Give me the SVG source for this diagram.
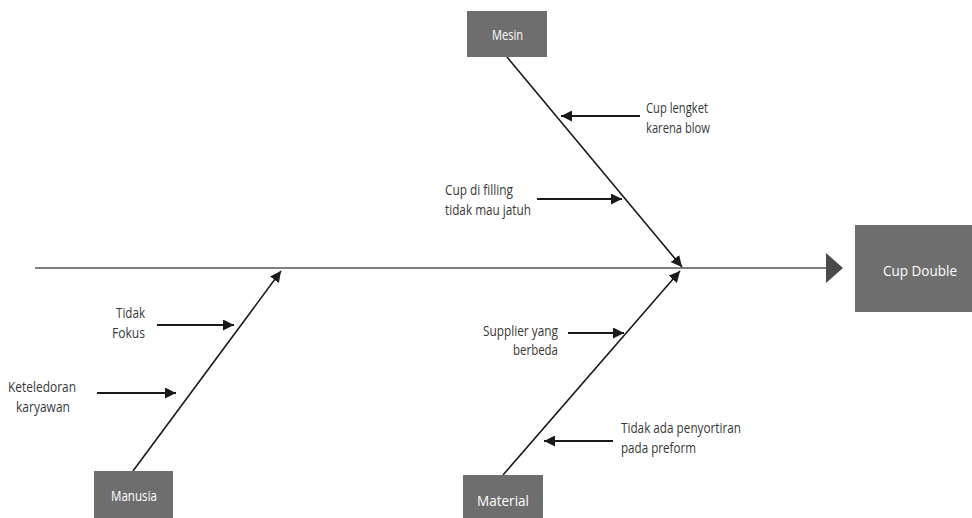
<svg xmlns="http://www.w3.org/2000/svg" width="972" height="518" viewBox="0 0 972 518">
<defs>
<marker id="ah" viewBox="0 0 10 10" refX="10" refY="5" markerWidth="11" markerHeight="11" markerUnits="userSpaceOnUse" orient="auto">
<path d="M0,0 L10,5 L0,10 Z" fill="#1a1a1a"/>
</marker>
</defs>
<style>
.box{fill:#6e6e6e;}
.bt{font-family:"Open Sans","Noto Sans",sans-serif;font-size:14px;fill:#ffffff;}
.lb{font-family:"Open Sans","Noto Sans",sans-serif;font-size:14px;fill:#383838;}
.bone{stroke:#1a1a1a;stroke-width:1.6;fill:none;marker-end:url(#ah);}
.sub{stroke:#1a1a1a;stroke-width:1.8;fill:none;marker-end:url(#ah);}
</style>
<rect width="972" height="518" fill="#ffffff"/>
<g id="connectors">
<line x1="35" y1="268" x2="828" y2="268" stroke="#555555" stroke-width="1.6"/>
<path d="M826,253 L843,268 L826,283 Z" fill="#4a4a4a"/>
<line class="bone" x1="507" y1="57" x2="682" y2="267"/>
<line class="bone" x1="133" y1="471" x2="281" y2="271"/>
<line class="bone" x1="503" y1="475" x2="680" y2="271"/>
<line class="sub" x1="640" y1="116" x2="561" y2="116"/>
<line class="sub" x1="537" y1="199" x2="622" y2="199"/>
<line class="sub" x1="157" y1="325" x2="234" y2="325"/>
<line class="sub" x1="97" y1="393" x2="176" y2="393"/>
<line class="sub" x1="568" y1="333" x2="624" y2="333"/>
<line class="sub" x1="613" y1="441" x2="544" y2="441"/>
</g>
<g id="mesin">
<rect class="box" x="467" y="11" width="80" height="46"/>
<text class="bt" x="492" y="39.5" textLength="31" lengthAdjust="spacingAndGlyphs">Mesin</text>
</g>
<g id="cup-double">
<rect class="box" x="855" y="225" width="117" height="87"/>
<text class="bt" x="883" y="276" textLength="74" lengthAdjust="spacingAndGlyphs">Cup Double</text>
</g>
<g id="manusia">
<rect class="box" x="94" y="471" width="79" height="47"/>
<text class="bt" x="111" y="501" textLength="46" lengthAdjust="spacingAndGlyphs">Manusia</text>
</g>
<g id="material">
<rect class="box" x="463" y="475" width="80" height="43"/>
<text class="bt" x="477" y="505.5" textLength="52" lengthAdjust="spacingAndGlyphs" style="font-size:15px">Material</text>
</g>
<g id="cause-cup-lengket">
<text class="lb" x="646" y="112.5" textLength="62" lengthAdjust="spacingAndGlyphs">Cup lengket</text>
<text class="lb" x="646" y="133" textLength="64" lengthAdjust="spacingAndGlyphs">karena blow</text>
</g>
<g id="cause-cup-filling">
<text class="lb" x="445" y="195" textLength="68" lengthAdjust="spacingAndGlyphs">Cup di filling</text>
<text class="lb" x="445" y="215" textLength="86" lengthAdjust="spacingAndGlyphs">tidak mau jatuh</text>
</g>
<g id="cause-tidak-fokus">
<text class="lb" x="116" y="318" textLength="29" lengthAdjust="spacingAndGlyphs">Tidak</text>
<text class="lb" x="112" y="338" textLength="33" lengthAdjust="spacingAndGlyphs">Fokus</text>
</g>
<g id="cause-keteledoran">
<text class="lb" x="8" y="392" textLength="68" lengthAdjust="spacingAndGlyphs">Keteledoran</text>
<text class="lb" x="16" y="412" textLength="54" lengthAdjust="spacingAndGlyphs">karyawan</text>
</g>
<g id="cause-supplier">
<text class="lb" x="483" y="336" textLength="75" lengthAdjust="spacingAndGlyphs">Supplier yang</text>
<text class="lb" x="513" y="355" textLength="45" lengthAdjust="spacingAndGlyphs">berbeda</text>
</g>
<g id="cause-penyortiran">
<text class="lb" x="621" y="433" textLength="120" lengthAdjust="spacingAndGlyphs">Tidak ada penyortiran</text>
<text class="lb" x="621" y="453" textLength="75" lengthAdjust="spacingAndGlyphs">pada preform</text>
</g>
</svg>
